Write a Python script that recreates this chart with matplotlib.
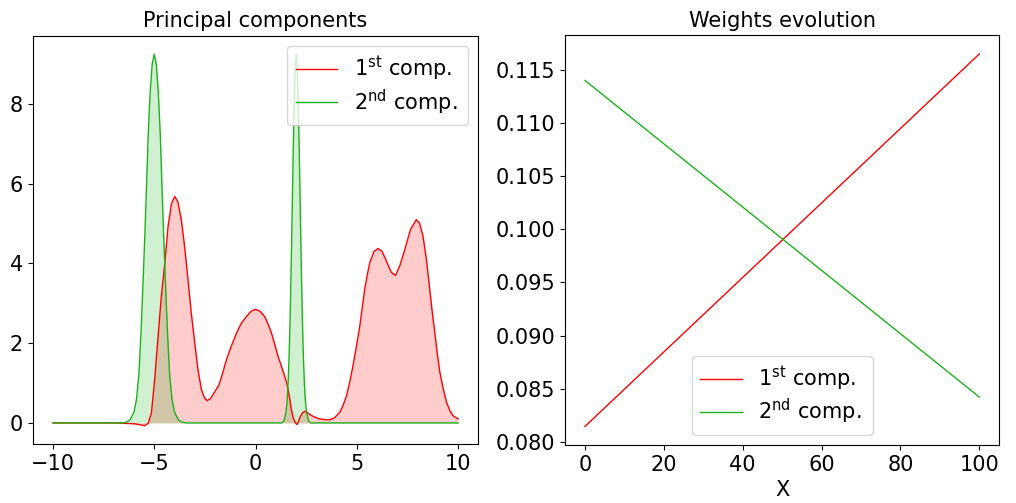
import matplotlib.pyplot as plt

# principal components
x_first = [-10.0, -7.0, -6.5, -6.0, -5.75, -5.47, -5.3, -5.14, -4.98, -4.81, -4.65, -4.48,
           -4.32, -4.15, -3.99, -3.83, -3.66, -3.50, -3.33, -3.17, -3.0, -2.84, -2.67, -2.52,
           -2.39, -2.24, -2.10, -1.80, -1.62, -1.44, -1.2, -0.94, -0.7, -0.45, -0.22, 0.0,
           0.22, 0.45, 0.62, 0.79, 0.95, 1.11, 1.28, 1.44, 1.53, 1.61, 1.69, 1.77, 1.84, 1.90,
           1.97, 2.05, 2.13, 2.22, 2.33, 2.44, 2.56, 2.68, 2.9, 3.17, 3.45, 3.67, 3.9, 4.16,
           4.33, 4.49, 4.65, 4.81, 4.98, 5.15, 5.27, 5.39, 5.52, 5.64, 5.85, 6.05, 6.25, 6.46,
           6.7, 6.91, 7.13, 7.37, 7.65, 7.94, 8.1, 8.27, 8.45, 8.6, 8.72, 8.85, 8.97, 9.1,
           9.27, 9.43, 9.6, 9.75, 10.0]
y_first = [0.0, 0.0, -0.01, -0.02, -0.04, -0.07, -0.01, 0.25, 1.08, 2.17, 3.17, 4.0,
           4.92, 5.5, 5.68, 5.54, 5.08, 4.42, 3.58, 2.75, 2.0, 1.33, 0.83, 0.63,
           0.56, 0.6, 0.71, 0.96, 1.25, 1.58, 1.92, 2.25, 2.5, 2.67, 2.8, 2.85,
           2.8, 2.67, 2.48, 2.25, 1.97, 1.67, 1.42, 1.17, 1.02, 0.83, 0.6, 0.33, 0.17, 0.08,
           0.0, -0.04, 0.05, 0.17, 0.26, 0.29, 0.26, 0.21, 0.15, 0.1, 0.08, 0.08, 0.13, 0.27,
           0.45, 0.68, 1.02, 1.43, 1.92, 2.43, 2.9, 3.35, 3.72, 4.02, 4.3, 4.375, 4.3, 4.06,
           3.78, 3.70, 3.95, 4.35, 4.85, 5.1, 5.0, 4.68, 4.05, 3.35, 2.8, 2.27, 1.75, 1.27,
           0.85, 0.52, 0.3, 0.18, 0.1]

x_second = [-10.0, -6.6, -6.4, -6.2, -6.0, -5.88, -5.76, -5.65, -5.54, -5.45, -5.37, -5.3,
            -5.2, -5.1, -5.0, -4.9, -4.8, -4.7, -4.63, -4.55, -4.46, -4.35, -4.24, -4.12,
            -4.0, -3.8, -3.6, -3.4, 1.3, 1.41, 1.51, 1.56, 1.61, 1.66, 1.71, 1.76, 1.81,
            1.86, 1.91, 1.96, 2.01, 2.06, 2.11, 2.16, 2.21, 2.26, 2.31, 2.36, 2.41, 2.46,
            2.51, 2.61, 2.72, 10.0]
y_second = [0.0, 0.0, 0.015, 0.07, 0.27, 0.58, 1.2, 2.3, 3.7, 4.9, 6.1, 7.2,
            8.3, 9.0, 9.25, 9.0, 8.3, 7.2, 6.1, 4.9, 3.7, 2.3, 1.2, 0.58,
            0.27, 0.07, 0.015, 0.0, 0.0, 0.06, 0.29, 0.56, 1.01, 1.70, 2.66, 3.89, 5.32,
            6.77, 8.05, 8.94, 9.25, 8.94, 8.05, 6.77, 5.32, 3.89, 2.66, 1.70, 1.01, 0.56,
            0.29, 0.06, 0.0, 0.0]

# weights evolution
steps = [0, 100]
w_first = [0.08146, 0.1165]
w_second = [0.1140, 0.08422]

red = 'red'
green = (0.1, 0.7, 0.1)
labels = ['1$^{\\rm st}$ comp. ', '2$^{\\rm nd}$ comp. ']

fig = plt.figure(figsize=(10.16, 5.03), dpi=100)
ax1 = fig.add_axes([0.0322, 0.1167, 0.4386, 0.8127])
ax2 = fig.add_axes([0.5564, 0.1153, 0.4269, 0.8145])

ax1.plot(x_first, y_first, color=red, lw=1, label=labels[0])
ax1.fill_between(x_first, y_first, color=red, alpha=0.2, lw=0)
ax1.plot(x_second, y_second, color=green, lw=1, label=labels[1])
ax1.fill_between(x_second, y_second, color=green, alpha=0.2, lw=0)
ax1.set_title('Principal components', fontsize=15)
ax1.set_xticks([-10, -5, 0, 5, 10])
ax1.set_yticks([0, 2, 4, 6, 8])
ax1.legend(loc='upper right', fontsize=15, labelspacing=0.2)

ax2.plot(steps, w_first, color=red, lw=1, label=labels[0])
ax2.plot(steps, w_second, color=green, lw=1, label=labels[1])
ax2.set_title('Weights evolution', fontsize=15)
ax2.set_xlabel('X', fontsize=15)
ax2.legend(loc='lower center', fontsize=15, labelspacing=0.2)

for ax in (ax1, ax2):
    ax.tick_params(labelsize=15)

fig.savefig('out.png', dpi=100)
